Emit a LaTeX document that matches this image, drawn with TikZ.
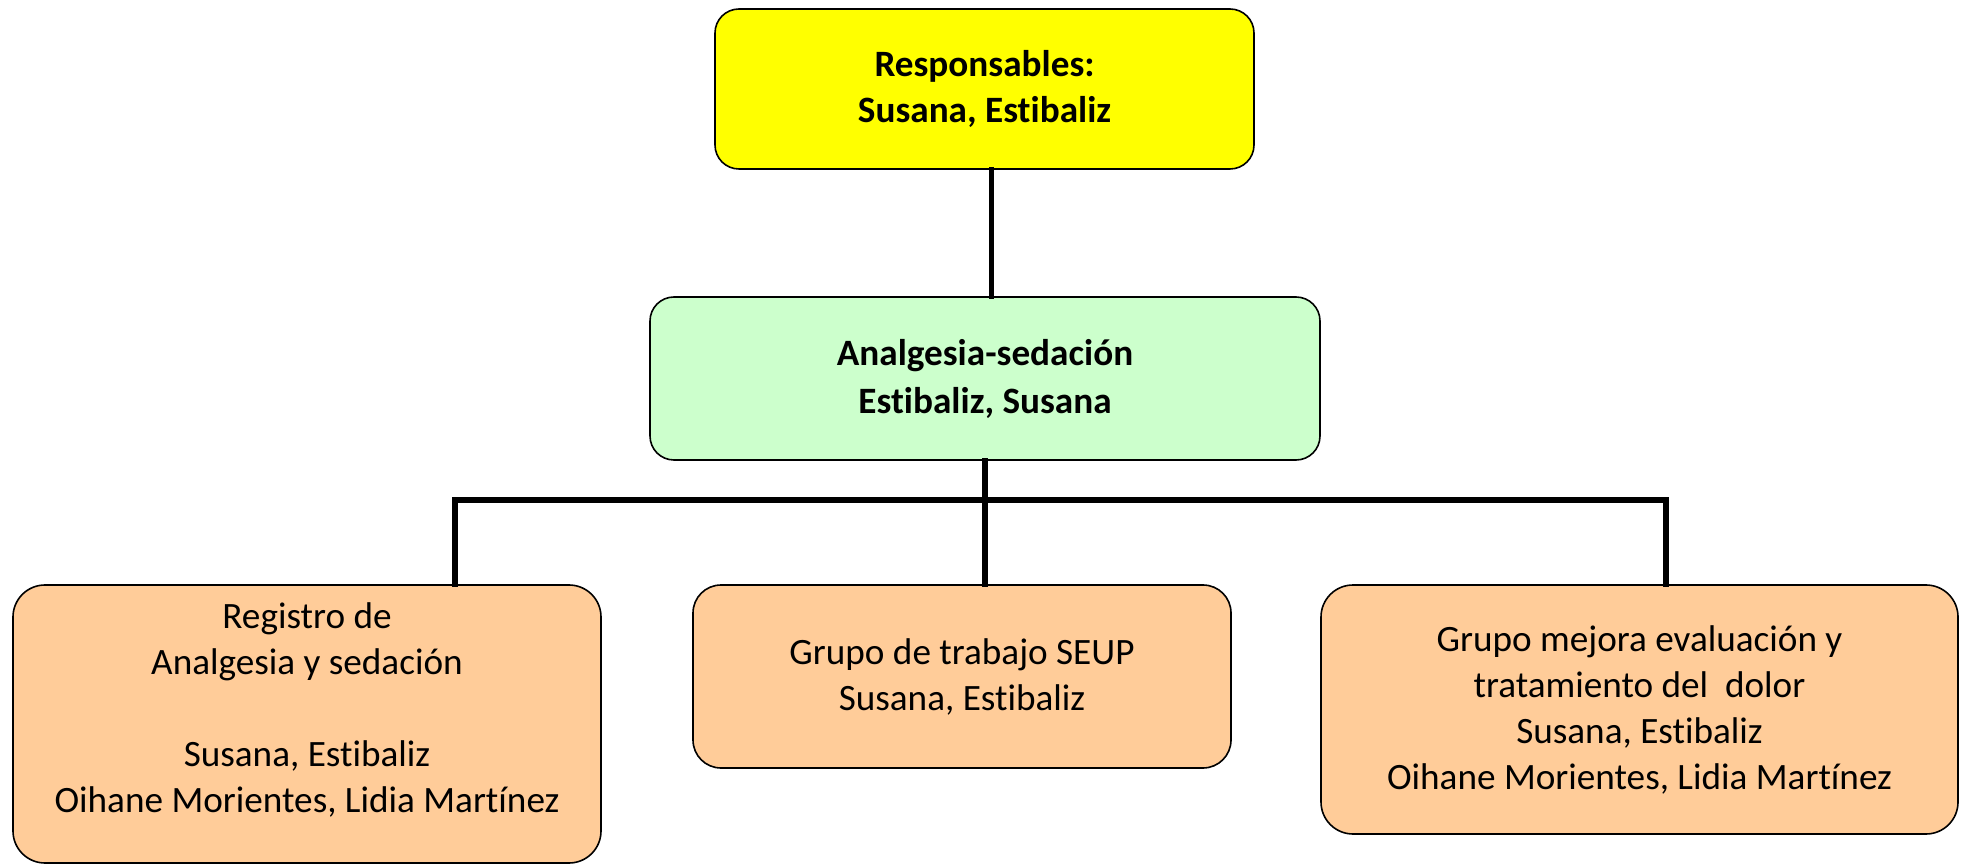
\documentclass[tikz,border=0pt]{standalone}
\usepackage{fontspec}
\setmainfont{Carlito}[RawFeature={-liga;-dlig;-clig}]
\usepackage{xcolor}
\usepackage{tikz}
\definecolor{respyellow}{RGB}{255, 255, 0}
\definecolor{sedgreen}{RGB}{204, 255, 204}
\definecolor{grouppeach}{RGB}{255, 204, 153}

\tikzset{
  box/.style={draw, line width=0.8pt, rounded corners=12pt, align=center,
    inner sep=0pt, font=\fontsize{18.6}{23}\selectfont},
  link/.style={line width=2.8pt, line cap=rect}
}

\begin{document}
\begin{tikzpicture}[x=0.5pt, y=-0.5pt]
                \useasboundingbox (0,0) rectangle (1964,865);

                % Top level
                \node[box, fill=respyellow, minimum width=269.5pt, minimum height=80pt,
                  font=\fontsize{18.6}{23}\selectfont\bfseries]
                  (resp) at (984.5,89) {Responsables:\\Susana, Estibaliz};

                % Second level
                \node[box, fill=sedgreen, minimum width=335pt, minimum height=81.5pt,
                  font=\fontsize{18.6}{24}\selectfont\bfseries]
                  (sedacion) at (985,378.5) {Analgesia-sedación\\Estibaliz, Susana};

                % Working groups
                \node[box, fill=grouppeach, rounded corners=16pt, minimum width=294pt, minimum height=139pt]
                  (registro) at (307,724) {Registro de\\Analgesia y sedación\\[23pt]Susana, Estibaliz\\Oihane Morientes, Lidia Martínez\\[-7pt]\mbox{}};
                \node[box, fill=grouppeach, rounded corners=14pt, minimum width=269pt, minimum height=91.5pt]
                  (seup) at (962,676.5) {Grupo de trabajo SEUP\\Susana, Estibaliz};
                \node[box, fill=grouppeach, rounded corners=16pt, minimum width=318.5pt, minimum height=124.5pt]
                  (dolor) at (1639.5,709.5) {Grupo mejora evaluación y\\tratamiento del\ \ dolor\\Susana, Estibaliz\\Oihane Morientes, Lidia Martínez};

                % Connectors
                \coordinate (busL) at (455,500);
                \coordinate (busR) at (1666,500);
                \draw[link] ([xshift=3.5pt]resp.south) -- ([xshift=3.5pt]resp.south |- sedacion.north);
                \draw[link] (sedacion.south) -- (sedacion.south |- busL);
                \draw[link] (busL) -- (busR);
                \draw[link] (busL) -- (busL |- registro.north);
                \draw[link] (sedacion.south |- busL) -- (sedacion.south |- seup.north);
                \draw[link] (busR) -- (busR |- dolor.north);
            \end{tikzpicture}
\end{document}
